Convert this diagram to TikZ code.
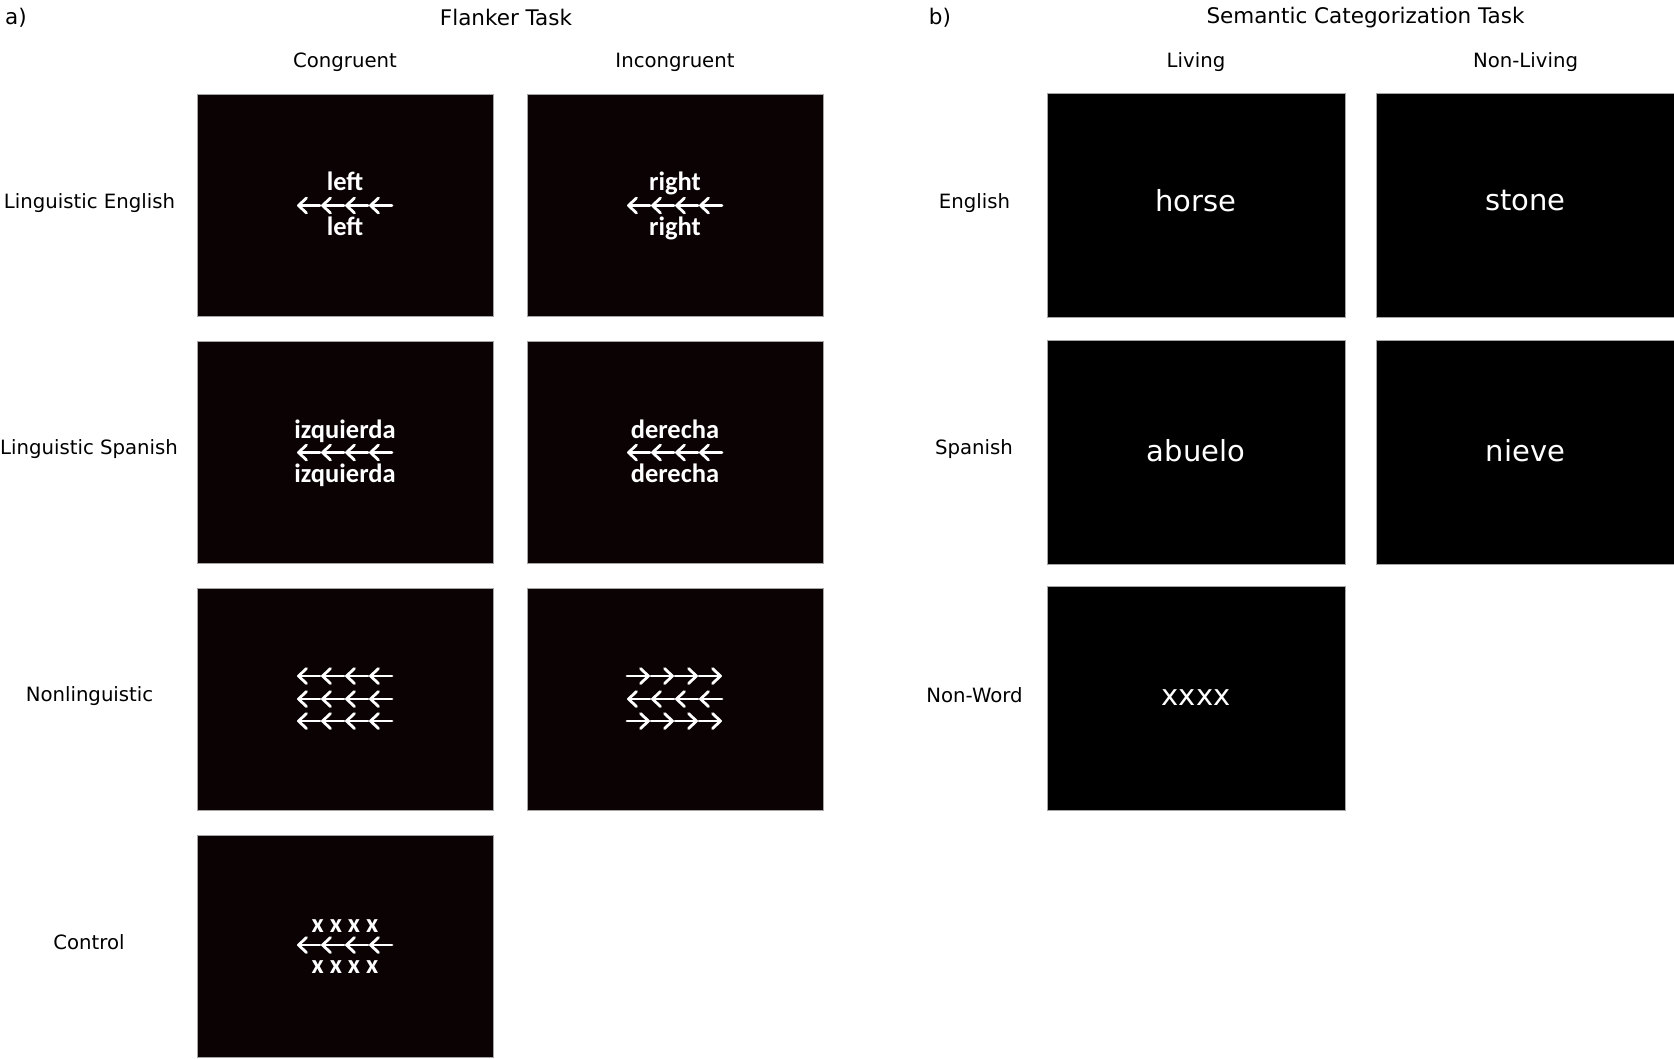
\documentclass[tikz,border=0pt]{standalone}
\usepackage{fontspec}
\setmainfont{DejaVu Sans}
\newfontfamily\stimfont{Carlito}
\definecolor{flankbg}{RGB}{10,2,3}
\definecolor{boxedge}{RGB}{165,165,165}
\newcommand\larrows[2]{%
  \foreach \k in {0,24,48,72}{%
    \draw[arr] (#1,#2) ++(\k+1.5,0) -- ++(21.5,0);
    \draw[arr] (#1,#2) ++(\k+9.5,-7.5) -- ++(-8,7.5) -- ++(8,7.5);}}
\newcommand\rarrows[2]{%
  \foreach \k in {0,24,48,72}{%
    \draw[arr] (#1,#2) ++(\k+1,0) -- ++(21.5,0);
    \draw[arr] (#1,#2) ++(\k+14.5,-7.5) -- ++(8,7.5) -- ++(-8,7.5);}}
\begin{document}
\begin{tikzpicture}[x=1pt,y=-1pt,
  fbox/.style={draw=boxedge, fill=flankbg, line width=0.8pt, minimum width=296pt, minimum height=222pt, inner sep=0pt},
  sbox/.style={draw=boxedge, fill=black, line width=0.8pt, minimum width=298pt, minimum height=224pt, inner sep=0pt},
  title/.style={font=\fontsize{21.5}{24}\selectfont, inner sep=0pt},
  lab/.style={font=\fontsize{19.7}{22}\selectfont, inner sep=0pt},
  fword/.style={text=white, font=\stimfont\bfseries\fontsize{26.5}{28}\selectfont, anchor=base, inner sep=0pt},
  sword/.style={text=white, font=\fontsize{29}{32}\selectfont, inner sep=0pt},
  arr/.style={white, line width=2.8pt, line cap=round, line join=round}]
\useasboundingbox (0,0) rectangle (1674,1058);
\fill[white] (0,0) rectangle (1674,1058);

% headings
\node[title] (ta) at (16,18) {a)};
\node[title] (tflank) at (506,17) {Flanker Task};
\node[lab] (hcong) at (345,62) {Congruent};
\node[lab] (hincong) at (675,62) {Incongruent};
\node[title] (tb) at (940,18) {b)};
\node[title] (tsem) at (1365.5,18) {Semantic Categorization Task};
\node[lab] (hliv) at (1196,62) {Living};
\node[lab] (hnonliv) at (1525.5,62) {Non-Living};

% flanker row labels
\node[lab] (rle) at (89.5,203) {Linguistic English};
\node[lab] (rls) at (89,449) {Linguistic Spanish};
\node[lab] (rnl) at (89.5,696) {Nonlinguistic};
\node[lab] (rct) at (89,942) {Control};

% semantic row labels
\node[lab] (ren) at (974.5,203) {English};
\node[lab] (rsp) at (974,449) {Spanish};
\node[lab] (rnw) at (974.5,695) {Non-Word};

% flanker boxes
\node[fbox] (f11) at (345,205.5) {};
\node[fbox] (f12) at (675,205.5) {};
\node[fbox] (f21) at (345,452.5) {};
\node[fbox] (f22) at (675,452.5) {};
\node[fbox] (f31) at (345,699) {};
\node[fbox] (f32) at (675,699) {};
\node[fbox] (f41) at (345,946) {};

% semantic boxes
\node[sbox] (s11) at (1196,205) {};
\node[sbox] (s12) at (1525.5,205) {};
\node[sbox] (s21) at (1196,452) {};
\node[sbox] (s22) at (1525.5,452) {};
\node[sbox] (s31) at (1196,698.5) {};

% flanker stimuli
\node[fword] (w11a) at (345,190.5) {left};
\larrows{297}{205.5}
\node[fword] (w11b) at (345,235.5) {left};
\node[fword] (w12a) at (675,190.5) {right};
\larrows{627}{205.5}
\node[fword] (w12b) at (675,235.5) {right};

\node[fword] (w21a) at (345,438) {izquierda};
\larrows{297}{452.5}
\node[fword] (w21b) at (345,482) {izquierda};
\node[fword] (w22a) at (675,438) {derecha};
\larrows{627}{452.5}
\node[fword] (w22b) at (675,482) {derecha};

\larrows{297}{676}
\larrows{297}{699}
\larrows{297}{721}
\rarrows{626}{676}
\larrows{627}{699}
\rarrows{626}{721}

\node[fword] (w41a) at (345,932) {x x x x};
\larrows{297}{945}
\node[fword] (w41b) at (345,973) {x x x x};

% semantic stimuli
\node[sword] (horse) at (1196,201) {horse};
\node[sword] (stone) at (1525.5,201) {stone};
\node[sword] (abuelo) at (1196,451) {abuelo};
\node[sword] (nieve) at (1525.5,451) {nieve};
\node[sword] (xxxx) at (1196,698) {xxxx};
\end{tikzpicture}
\end{document}
